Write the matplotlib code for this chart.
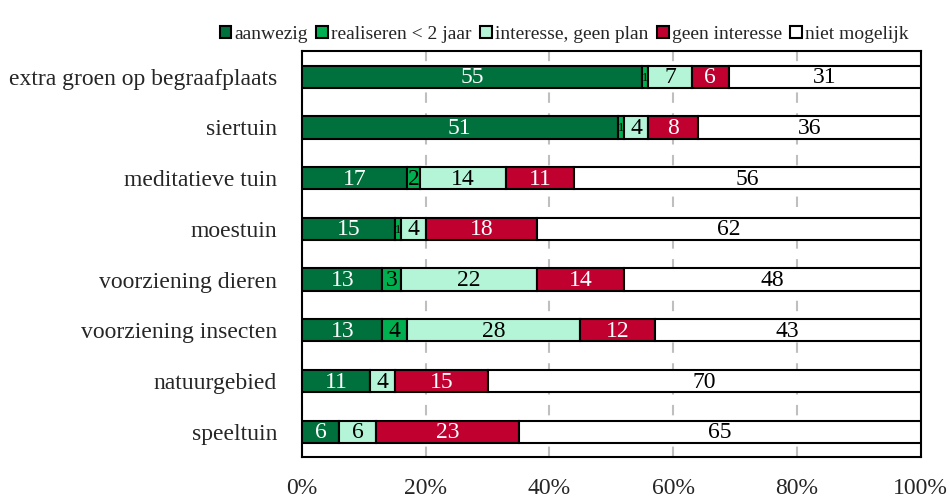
import matplotlib.pyplot as plt
import numpy as np

plt.rcParams['font.family'] = ['Liberation Serif', 'DejaVu Serif']

# categories from top to bottom
categories = ['extra groen op begraafplaats', 'siertuin', 'meditatieve tuin',
              'moestuin', 'voorziening dieren', 'voorziening insecten',
              'natuurgebied', 'speeltuin']
series_names = ['aanwezig', 'realiseren < 2 jaar', 'interesse, geen plan',
                'geen interesse', 'niet mogelijk']
aanwezig = [55, 51, 17, 15, 13, 13, 11, 6]
realiseren = [1, 1, 2, 1, 3, 4, 0, 0]
interesse = [7, 4, 14, 4, 22, 28, 4, 6]
geen_interesse = [6, 8, 11, 18, 14, 12, 15, 23]
niet_mogelijk = [31, 36, 56, 62, 48, 43, 70, 65]

colors = ['#00703C', '#00B050', '#B3F5D6', '#C0002F', '#FFFFFF']
text_colors = ['white', 'black', 'black', 'white', 'black']

fig = plt.figure(figsize=(9.5, 4.99), dpi=100)
ax = fig.add_axes([0.318, 0.084, 0.651, 0.813])

y = np.arange(len(categories))[::-1]
left = np.zeros(len(categories))
all_series = [aanwezig, realiseren, interesse, geen_interesse, niet_mogelijk]
for vals, name, col, tc in zip(all_series, series_names, colors, text_colors):
    vals = np.array(vals, dtype=float)
    ax.barh(y, vals, left=left, height=0.44, color=col, edgecolor='black',
            linewidth=1.5, label=name, zorder=3)
    for yi, l, v in zip(y, left, vals):
        if v > 0:
            fs = 17 if v >= 2 else 9
            ax.text(l + v / 2, yi - 0.02, f'{int(v)}', ha='center', va='center',
                    color=tc, fontsize=fs, zorder=4)
    left += vals

ax.set_xlim(0, 100)
ax.set_ylim(-0.5, len(categories) - 0.5)
ax.set_yticks(y)
ax.set_yticklabels(categories, fontsize=17, color='#262626')
ax.set_xticks([0, 20, 40, 60, 80, 100])
ax.set_xticklabels(['0%', '20%', '40%', '60%', '80%', '100%'], fontsize=17,
                   color='#262626')
ax.tick_params(axis='both', length=0)
ax.tick_params(axis='x', pad=15)
ax.tick_params(axis='y', pad=18)
ax.xaxis.grid(True, color='#BFBFBF', linestyle=(0, (5, 5)), linewidth=1.5, zorder=0)
for s in ax.spines.values():
    s.set_linewidth(1.5)

leg = ax.legend(loc='lower right', bbox_to_anchor=(0.995, 1.0), ncol=5,
                frameon=False, fontsize=14, handlelength=0.6, handleheight=0.6,
                handletextpad=0.15, columnspacing=0.45, borderaxespad=0.25,
                borderpad=0.2)
for t in leg.get_texts():
    t.set_color('#262626')

fig.savefig('out.png', dpi=100)
